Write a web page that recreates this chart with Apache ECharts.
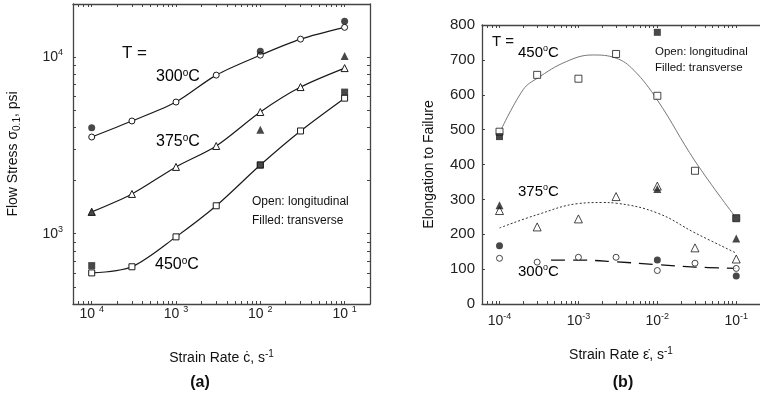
<!DOCTYPE html>
<html>
<head>
<meta charset="utf-8">
<script src="https://cdn.jsdelivr.net/npm/echarts@6/dist/echarts.min.js"></script>
<style>
  html, body { margin: 0; padding: 0; background: #fff; }
  #chart { width: 760px; height: 398px; }
</style>
</head>
<body>
<div id="chart"></div>
<script>
// strain rates, s^-1
const rates = [1e-4, 3e-4, 1e-3, 3e-3, 1e-2, 3e-2, 1e-1]
const filledRates = [1e-4, 1e-2, 1e-1]

// (a) flow stress, psi  (open = longitudinal, filled = transverse)
const stress300Open = [3530, 4350, 5570, 7910, 10260, 12650, 14750]
const stress300Filled = [3980, 10810, 15960]
const stress375Open = [1330, 1680, 2390, 3140, 4890, 6770, 8670]
const stress375Filled = [1330, 3880, 10140]
const stress450Open = [600, 650, 960, 1440, 2450, 3820, 5860]
const stress450Filled = [660, 2450, 6340]

// (b) elongation to failure
const elong450Open = [494, 657, 646, 717, 597, 382, 246]
const elong450Filled = [480, 779, 246]
const elong375Open = [268, 221, 244, 308, 338, 161, 129]
const elong375Filled = [283, 330, 188]
const elong300Open = [131, 120, 134, 134, 96, 117, 102]
const elong300Filled = [167, 126, 80]

// fitted curves of (b)
const fit450Rates = [1e-4, 2e-4, 3e-4, 7e-4, 1.5e-3, 3e-3, 5e-3, 1e-2, 3e-2, 1e-1]
const fit450 = [490, 615, 647, 695, 714, 705, 671, 585, 410, 246]
const fit375Rates = [1e-4, 3e-4, 1e-3, 2e-3, 3e-3, 1e-2, 3e-2, 1e-1]
const fit375 = [218, 256, 288, 291, 289, 261, 204, 146]
const fit300Rates = [4.5e-4, 1e-3, 3e-3, 1e-2, 3e-2, 1e-1]
const fit300 = [126, 126, 121, 113, 106, 102]

// tick labels
const rateTicks = [1e-4, 1e-3, 1e-2, 1e-1]
const rateExpA = ['4', '3', '2', '1'] // (a) prints them without the minus
const rateExpB = ['-4', '-3', '-2', '-1']
const stressTicks = [1e3, 1e4]
const stressExp = ['3', '4']
const elongTicks = [0, 100, 200, 300, 400, 500, 600, 700, 800]

const FONT = 'Liberation Sans, Arial, sans-serif'
const lg = Math.log10

// axes are linear in log10 of the value, so ticks can sit at 2..9 of each decade
function logTicks (lo, hi) {
  const out = []
  for (let e = -6; e <= 6; e++) {
    for (let m = 1; m < 10; m++) {
      const v = lg(m) + e
      if (v >= lo - 1e-9 && v <= hi + 1e-9) out.push(v)
    }
  }
  return out
}
function expLabel (ticks, exps, sep) {
  return function (v) {
    const i = ticks.findIndex(t => Math.abs(lg(t) - v) < 1e-6)
    return i < 0 ? '' : '{n|10' + sep + '}{e|' + exps[i] + '}'
  }
}
const expRich = {
  n: { fontFamily: FONT, fontSize: 14, lineHeight: 18, color: '#222' },
  e: { fontFamily: FONT, fontSize: 9, lineHeight: 9, verticalAlign: 'top', color: '#222' }
}

const xMin = lg(6e-5)
const xMax = lg(0.2)
const yMinA = lg(400)
const yMaxA = lg(20000)

const lineCol = '#444'
const ink = '#1a1a1a'

function tickAxis (extra) {
  return Object.assign({
    type: 'value',
    axisLine: { show: true, onZero: false, lineStyle: { color: lineCol, width: 1.3 } },
    axisTick: { show: true, inside: true, length: 3, lineStyle: { color: lineCol } },
    axisLabel: { show: false },
    splitLine: { show: false }
  }, extra)
}

const pairs = (xs, ys, fy) => xs.map((x, i) => [lg(x), fy ? fy(ys[i]) : ys[i]])

function openSeries (xAxisIndex, yAxisIndex, data, symbol, size, line) {
  const s = {
    type: line ? 'line' : 'scatter',
    xAxisIndex, yAxisIndex, data,
    symbol, symbolSize: size,
    itemStyle: { color: '#fff', borderColor: ink, borderWidth: 1 },
    z: 3
  }
  if (line) {
    s.smooth = 0.3
    s.lineStyle = { color: ink, width: 1.2 }
    s.showAllSymbol = true
  }
  return s
}
function filledSeries (xAxisIndex, yAxisIndex, data, symbol, size) {
  return {
    type: 'scatter', xAxisIndex, yAxisIndex, data,
    symbol, symbolSize: size,
    itemStyle: { color: ink }, z: 4
  }
}
function fitSeries (data, color, type, width) {
  return {
    type: 'line', xAxisIndex: 2, yAxisIndex: 2, data,
    smooth: 0.4, symbol: 'none',
    lineStyle: { color, type, width }, z: 2
  }
}

function tempText (x, y, t, size) {
  return {
    type: 'text', x, y,
    style: {
      text: '{n|' + t + '}{o|o}{n|C}',
      verticalAlign: 'middle', textVerticalAlign: 'middle',
      rich: {
        n: { fontFamily: FONT, fontSize: size, lineHeight: size + 2, color: '#111' },
        o: { fontFamily: FONT, fontSize: Math.round(size * 0.6), lineHeight: Math.round(size * 0.6), verticalAlign: 'top', color: '#111' }
      }
    }
  }
}
function plainText (x, y, t, size, extra) {
  return {
    type: 'text', x, y,
    style: Object.assign({
      text: t, fill: '#111',
      font: size + 'px ' + FONT,
      verticalAlign: 'middle', textVerticalAlign: 'middle'
    }, extra || {})
  }
}

const chart = echarts.init(document.getElementById('chart'), null, { renderer: 'canvas' })

chart.setOption({
  animation: false,
  backgroundColor: '#fff',
  grid: [
    { left: 73, top: 4, width: 297, height: 300 },
    { left: 482, top: 25, width: 286, height: 279 }
  ],
  xAxis: [
    tickAxis({
      gridIndex: 0, min: xMin, max: xMax,
      axisTick: { show: true, inside: true, length: 3, lineStyle: { color: lineCol }, customValues: logTicks(xMin, xMax) },
      axisLabel: {
        show: true, margin: 1, customValues: rateTicks.map(lg),
        formatter: expLabel(rateTicks, rateExpA, ' '), rich: expRich
      },
      name: '{a|Strain Rate ċ, s}{e|-1}',
      nameLocation: 'middle', nameGap: 45,
      nameTextStyle: {
        rich: {
          a: { fontFamily: FONT, fontSize: 14, lineHeight: 18, color: '#111' },
          e: { fontFamily: FONT, fontSize: 10, lineHeight: 10, verticalAlign: 'top', color: '#111' }
        }
      }
    }),
    tickAxis({
      gridIndex: 0, position: 'top', min: xMin, max: xMax,
      axisTick: { show: true, inside: true, length: 3, lineStyle: { color: lineCol }, customValues: logTicks(xMin, xMax) }
    }),
    tickAxis({
      gridIndex: 1, min: xMin, max: xMax,
      axisTick: { show: true, inside: true, length: 3, lineStyle: { color: lineCol }, customValues: logTicks(xMin, xMax) },
      axisLabel: {
        show: true, margin: 8, customValues: rateTicks.map(lg),
        formatter: expLabel(rateTicks, rateExpB, ''), rich: expRich
      },
      name: '{a|Strain Rate ε̇, s}{e|-1}',
      nameLocation: 'middle', nameGap: 42,
      nameTextStyle: {
        rich: {
          a: { fontFamily: FONT, fontSize: 14, lineHeight: 18, color: '#111' },
          e: { fontFamily: FONT, fontSize: 10, lineHeight: 10, verticalAlign: 'top', color: '#111' }
        }
      }
    }),
    tickAxis({
      gridIndex: 1, position: 'top', min: xMin, max: xMax,
      axisTick: { show: true, inside: true, length: 3, lineStyle: { color: lineCol }, customValues: logTicks(xMin, xMax) }
    })
  ],
  yAxis: [
    tickAxis({
      gridIndex: 0, min: yMinA, max: yMaxA,
      axisTick: { show: true, inside: true, length: 3, lineStyle: { color: lineCol }, customValues: logTicks(yMinA, yMaxA) },
      axisLabel: {
        show: true, margin: 10, customValues: stressTicks.map(lg),
        formatter: expLabel(stressTicks, stressExp, ''), rich: expRich
      },
      name: '{a|Flow Stress σ}{s|0.1}{a|, psi}',
      nameLocation: 'middle', nameGap: 51, nameRotate: 90,
      nameTextStyle: {
        rich: {
          a: { fontFamily: FONT, fontSize: 14, lineHeight: 18, color: '#111' },
          s: { fontFamily: FONT, fontSize: 10, lineHeight: 10, verticalAlign: 'bottom', color: '#111' }
        }
      }
    }),
    tickAxis({
      gridIndex: 0, position: 'right', min: yMinA, max: yMaxA,
      axisTick: { show: true, inside: true, length: 3, lineStyle: { color: lineCol }, customValues: logTicks(yMinA, yMaxA) }
    }),
    tickAxis({
      gridIndex: 1, min: 0, max: 800, interval: 100,
      axisLabel: {
        show: true, margin: 7, customValues: elongTicks,
        fontFamily: FONT, fontSize: 15, color: '#222'
      },
      name: 'Elongation to Failure',
      nameLocation: 'middle', nameGap: 46,
      nameTextStyle: { fontFamily: FONT, fontSize: 14, color: '#111' }
    })
  ],
  series: [
    // (a)
    openSeries(0, 0, pairs(rates, stress300Open, lg), 'circle', 6, true),
    filledSeries(0, 0, pairs(filledRates, stress300Filled, lg), 'circle', 7),
    openSeries(0, 0, pairs(rates, stress375Open, lg), 'triangle', 7, true),
    filledSeries(0, 0, pairs(filledRates, stress375Filled, lg), 'triangle', 8),
    openSeries(0, 0, pairs(rates, stress450Open, lg), 'rect', 6, true),
    filledSeries(0, 0, pairs(filledRates, stress450Filled, lg), 'rect', 7),
    // (b) fitted curves
    fitSeries(pairs(fit450Rates, fit450), '#777', 'solid', 1),
    fitSeries(pairs(fit375Rates, fit375), '#333', [2, 2], 1),
    fitSeries(pairs(fit300Rates, fit300), '#111', [14, 8], 1.3),
    // (b) points
    openSeries(2, 2, pairs(rates, elong450Open), 'rect', 7, false),
    filledSeries(2, 2, pairs(filledRates, elong450Filled), 'rect', 7),
    openSeries(2, 2, pairs(rates, elong375Open), 'triangle', 8, false),
    filledSeries(2, 2, pairs(filledRates, elong375Filled), 'triangle', 8),
    openSeries(2, 2, pairs(rates, elong300Open), 'circle', 6, false),
    filledSeries(2, 2, pairs(filledRates, elong300Filled), 'circle', 7)
  ],
  graphic: [
    // (a)
    plainText(122, 53, 'T =', 17),
    tempText(156, 77, '300', 16),
    tempText(156, 142, '375', 16),
    tempText(155, 265, '450', 16),
    plainText(252, 202, 'Open: longitudinal', 12),
    plainText(252, 221, 'Filled: transverse', 12),
    plainText(200, 383, '(a)', 16, { font: 'bold 16px ' + FONT, align: 'center', textAlign: 'center' }),
    // (b)
    plainText(492, 42, 'T =', 15),
    tempText(518, 53, '450', 15),
    tempText(518, 192, '375', 15),
    tempText(518, 272, '300', 15),
    plainText(655, 52, 'Open: longitudinal', 11.5),
    plainText(655, 68, 'Filled: transverse', 11.5),
    plainText(623, 383, '(b)', 16, { font: 'bold 16px ' + FONT, align: 'center', textAlign: 'center' })
  ]
})
</script>
</body>
</html>
